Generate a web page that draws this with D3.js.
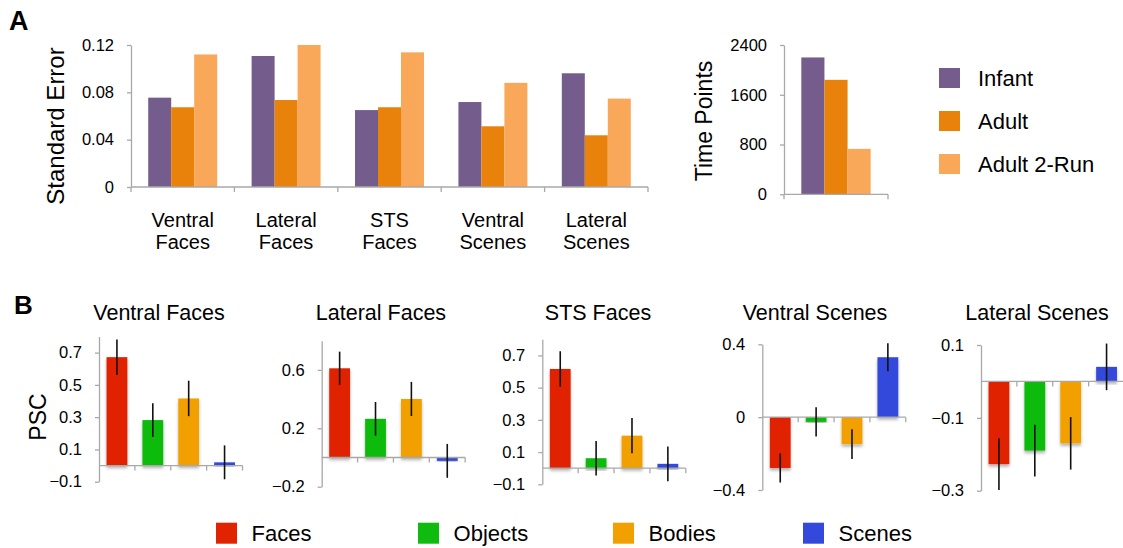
<!DOCTYPE html>
<html>
<head>
<meta charset="utf-8">
<script src="https://cdn.jsdelivr.net/npm/d3@7"></script>
<style>
  html, body { margin: 0; padding: 0; background: #fff; }
  svg { display: block; font-family: "Liberation Sans", Arial, Helvetica, sans-serif; }
</style>
</head>
<body>
<svg id="fig" width="1123" height="548"></svg>
<script>
// ---- Panel A data: standard error per ROI and time points per group ----
const regionsA = ["Ventral Faces", "Lateral Faces", "STS Faces", "Ventral Scenes", "Lateral Scenes"];
const groupsA = ["Infant", "Adult", "Adult 2-Run"];
const seInfant = [0.0755, 0.1107, 0.065, 0.0718, 0.0961];
const seAdult = [0.0674, 0.0735, 0.0674, 0.0513, 0.0437];
const seAdult2Run = [0.112, 0.12, 0.1138, 0.088, 0.0747];
const seTicks = [0, 0.04, 0.08, 0.12];
const timePoints = [2200, 1840, 730];
const timeTicks = [0, 800, 1600, 2400];

// ---- Panel B data: percent signal change (PSC) per condition, with SE ----
const conditions = ["Faces", "Objects", "Bodies", "Scenes"];
const pscVentralFaces = [0.672, 0.282, 0.416, 0.02];
const errVentralFaces = [0.11, 0.105, 0.11, 0.105];
const pscLateralFaces = [0.611, 0.265, 0.401, -0.023];
const errLateralFaces = [0.114, 0.115, 0.117, 0.116];
const pscSTSFaces = [0.616, 0.062, 0.202, 0.027];
const errSTSFaces = [0.11, 0.107, 0.109, 0.108];
const pscVentralScenes = [-0.279, -0.026, -0.148, 0.329];
const errVentralScenes = [0.08, 0.08, 0.082, 0.077];
const pscLateralScenes = [-0.227, -0.19, -0.17, 0.04];
const errLateralScenes = [0.071, 0.071, 0.072, 0.064];
const ticksVentralFaces = [-0.1, 0.1, 0.3, 0.5, 0.7];
const ticksLateralFaces = [-0.2, 0.2, 0.6];
const ticksSTSFaces = [-0.1, 0.1, 0.3, 0.5, 0.7];
const ticksVentralScenes = [-0.4, 0, 0.4];
const ticksLateralScenes = [-0.3, -0.1, 0.1];

// ---- styles ----
const groupColors = ["#745d8d", "#e9820b", "#f9a85a"];
const condColors = ["#e02300", "#10bb10", "#f29f00", "#3249dc"];
const axisGrey = "#a8a8a8";
const textColor = "#000";
const tickFont = "16.5px";

const svg = d3.select("#fig");
const defs = svg.append("defs");
const shadow = defs.append("filter").attr("id", "barShadow")
  .attr("x", "-20%").attr("y", "-20%").attr("width", "140%").attr("height", "140%");
shadow.append("feDropShadow").attr("dx", 0).attr("dy", 2.5)
  .attr("stdDeviation", 1.6).attr("flood-color", "#000").attr("flood-opacity", 0.3);

function styleAxis(g) {
  g.select(".domain").attr("stroke", axisGrey).attr("stroke-width", 1.3);
  g.selectAll(".tick line").attr("stroke", axisGrey).attr("stroke-width", 1.3);
  g.selectAll(".tick text").attr("fill", textColor).style("font-size", tickFont).attr("font-family", null);
}

// panel letters
svg.append("text").attr("x", 9).attr("y", 30).text("A")
  .style("font-size", "27px").style("font-weight", "bold").attr("fill", textColor);
svg.append("text").attr("x", 14).attr("y", 314).text("B")
  .style("font-size", "26px").style("font-weight", "bold").attr("fill", textColor);

// ================= Panel A, left: standard error =================
{
  const x0 = d3.scaleBand().domain(regionsA).range([131, 648]).paddingInner(0.333).paddingOuter(0.1665);
  const x1 = d3.scaleBand().domain(groupsA).range([0, x0.bandwidth()]);
  const y = d3.scaleLinear().domain([0, 0.12]).range([187, 45]);
  const series = [seInfant, seAdult, seAdult2Run];

  const gy = svg.append("g").attr("transform", `translate(131,0)`)
    .call(d3.axisLeft(y).tickValues(seTicks).tickSize(4).tickSizeOuter(0).tickPadding(13)
      .tickFormat(d => d === 0 ? "0" : d3.format(".2f")(d)));
  styleAxis(gy);

  const groups = svg.append("g").selectAll("g").data(regionsA).join("g")
    .attr("transform", d => `translate(${x0(d)},0)`);
  groups.selectAll("rect").data((d, i) => groupsA.map((gname, k) => ({ g: gname, v: series[k][i], k })))
    .join("rect")
    .attr("x", d => x1(d.g)).attr("width", x1.bandwidth())
    .attr("y", d => y(d.v)).attr("height", d => y(0) - y(d.v))
    .attr("fill", d => groupColors[d.k]);

  // x axis with ticks at category boundaries
  const [r0, r1] = x0.range();
  svg.append("line").attr("x1", r0).attr("x2", r1).attr("y1", y(0)).attr("y2", y(0))
    .attr("stroke", axisGrey).attr("stroke-width", 1.3);
  const bounds = [r0].concat(regionsA.map(c => x0(c) + x0.bandwidth() + x0.step() * x0.paddingInner() / 2));
  svg.append("g").selectAll("line").data(bounds).join("line")
    .attr("x1", d => d).attr("x2", d => d).attr("y1", y(0)).attr("y2", y(0) + 5)
    .attr("stroke", axisGrey).attr("stroke-width", 1.3);

  // two-line category labels
  const lab = svg.append("g").selectAll("text").data(regionsA).join("text")
    .attr("text-anchor", "middle").style("font-size", "20px").attr("fill", textColor);
  lab.each(function (d) {
    const parts = d.split(" ");
    const cx = x0(d) + x0.bandwidth() / 2;
    d3.select(this).selectAll("tspan").data(parts).join("tspan")
      .attr("x", cx).attr("y", (p, i) => 227 + i * 22).text(p => p);
  });

  svg.append("text").attr("transform", "translate(64,126) rotate(-90)")
    .attr("text-anchor", "middle").style("font-size", "24px").attr("fill", textColor)
    .text("Standard Error");
}

// ================= Panel A, right: time points =================
{
  const x0 = d3.scaleBand().domain(["all"]).range([784, 888]).paddingInner(0.333).paddingOuter(0.1665);
  const x1 = d3.scaleBand().domain(groupsA).range([0, x0.bandwidth()]);
  const y = d3.scaleLinear().domain([0, 2400]).range([194.3, 45]);

  const gy = svg.append("g").attr("transform", `translate(784,0)`)
    .call(d3.axisLeft(y).tickValues(timeTicks).tickSize(4).tickSizeOuter(0).tickPadding(13)
      .tickFormat(d3.format("d")));
  styleAxis(gy);

  svg.append("g").attr("transform", `translate(${x0("all")},0)`)
    .selectAll("rect").data(groupsA).join("rect")
    .attr("x", d => x1(d)).attr("width", x1.bandwidth())
    .attr("y", (d, i) => y(timePoints[i])).attr("height", (d, i) => y(0) - y(timePoints[i]))
    .attr("fill", (d, i) => groupColors[i]);

  const [r0, r1] = x0.range();
  svg.append("line").attr("x1", r0).attr("x2", r1).attr("y1", y(0)).attr("y2", y(0))
    .attr("stroke", axisGrey).attr("stroke-width", 1.3);
  svg.append("g").selectAll("line").data([r0, r1]).join("line")
    .attr("x1", d => d).attr("x2", d => d).attr("y1", y(0)).attr("y2", y(0) + 5)
    .attr("stroke", axisGrey).attr("stroke-width", 1.3);

  svg.append("text").attr("transform", "translate(712,121) rotate(-90)")
    .attr("text-anchor", "middle").style("font-size", "23px").attr("fill", textColor)
    .text("Time Points");

  // legend
  const leg = svg.append("g").selectAll("g").data(groupsA).join("g")
    .attr("transform", (d, i) => `translate(939,${68 + i * 43})`);
  leg.append("rect").attr("width", 21).attr("height", 20).attr("fill", (d, i) => groupColors[i]);
  leg.append("text").attr("x", 39).attr("y", 18).style("font-size", "22px").attr("fill", textColor).text(d => d);
}

// ================= Panel B: PSC per ROI =================
const roiPanels = [
  { title: "Ventral Faces", v: pscVentralFaces, e: errVentralFaces, dom: [-0.1, 0.8], ticks: ticksVentralFaces, ax: 99, top: 336.5, bot: 481.7, tx: 159 },
  { title: "Lateral Faces", v: pscLateralFaces, e: errLateralFaces, dom: [-0.2, 0.8], ticks: ticksLateralFaces, ax: 321.7, top: 340.7, bot: 486.7, tx: 381 },
  { title: "STS Faces", v: pscSTSFaces, e: errSTSFaces, dom: [-0.1, 0.8], ticks: ticksSTSFaces, ax: 542.3, top: 339.3, bot: 484.3, tx: 598 },
  { title: "Ventral Scenes", v: pscVentralScenes, e: errVentralScenes, dom: [-0.4, 0.4], ticks: ticksVentralScenes, ax: 762.3, top: 344.3, bot: 490, tx: 815 },
  { title: "Lateral Scenes", v: pscLateralScenes, e: errLateralScenes, dom: [-0.3, 0.1], ticks: ticksLateralScenes, ax: 981, top: 345, bot: 490.7, tx: 1037 }
];

roiPanels.forEach(p => {
  const y = d3.scaleLinear().domain(p.dom).range([p.bot, p.top]);
  const x = d3.scaleBand().domain(conditions).range([p.ax, p.ax + 143.5]).paddingInner(0.42).paddingOuter(0.21);
  const g = svg.append("g");

  const gy = g.append("g").attr("transform", `translate(${p.ax},0)`)
    .call(d3.axisLeft(y).tickValues(p.ticks).tickSize(4).tickSizeOuter(0).tickPadding(13)
      .tickFormat(d => d === 0 ? "0" : d3.format(".1f")(d)));
  styleAxis(gy);

  const data = conditions.map((c, i) => ({ c, v: p.v[i], e: p.e[i], i }));

  g.append("g").selectAll("rect").data(data).join("rect")
    .attr("x", d => x(d.c)).attr("width", x.bandwidth())
    .attr("y", d => y(Math.max(0, d.v))).attr("height", d => Math.abs(y(d.v) - y(0)))
    .attr("fill", d => condColors[d.i]).attr("filter", "url(#barShadow)");

  // zero line with category ticks
  const [r0, r1] = x.range();
  g.append("line").attr("x1", r0).attr("x2", r1).attr("y1", y(0)).attr("y2", y(0))
    .attr("stroke", axisGrey).attr("stroke-width", 1.3);
  const bounds = conditions.map(c => x(c) + x.bandwidth() + x.step() * x.paddingInner() / 2);
  g.append("g").selectAll("line").data(bounds).join("line")
    .attr("x1", d => d).attr("x2", d => d).attr("y1", y(0)).attr("y2", y(0) + 5)
    .attr("stroke", axisGrey).attr("stroke-width", 1.3);

  // error bars
  g.append("g").selectAll("line").data(data).join("line")
    .attr("x1", d => x(d.c) + x.bandwidth() / 2).attr("x2", d => x(d.c) + x.bandwidth() / 2)
    .attr("y1", d => y(d.v + d.e)).attr("y2", d => y(d.v - d.e))
    .attr("stroke", "#111").attr("stroke-width", 1.6);

  g.append("text").attr("x", p.tx).attr("y", 320).attr("text-anchor", "middle")
    .style("font-size", "21.5px").attr("fill", textColor).text(p.title);
});

svg.append("text").attr("transform", "translate(46,417) rotate(-90)")
  .attr("text-anchor", "middle").style("font-size", "23px").attr("fill", textColor).text("PSC");

// condition legend
const legendX = [216, 418, 613, 803];
const condLeg = svg.append("g").selectAll("g").data(conditions).join("g")
  .attr("transform", (d, i) => `translate(${legendX[i]},522.7)`);
condLeg.append("rect").attr("width", 21).attr("height", 21).attr("fill", (d, i) => condColors[i]);
condLeg.append("text").attr("x", 35.6).attr("y", 18).style("font-size", "22px").attr("fill", textColor).text(d => d);
</script>
</body>
</html>
